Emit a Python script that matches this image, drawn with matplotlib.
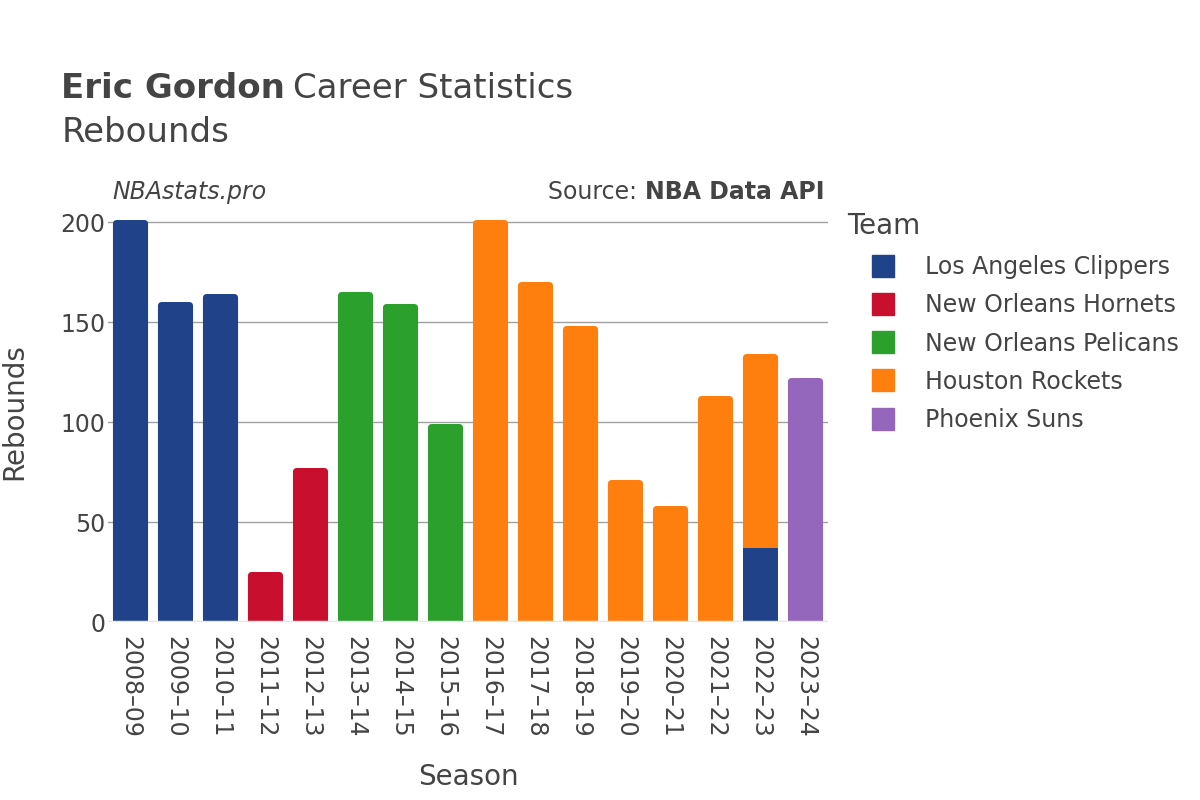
import matplotlib.pyplot as plt
from matplotlib.lines import Line2D
from matplotlib.patches import FancyBboxPatch

plt.rcParams['font.family'] = ['DejaVu Sans']

seasons = ["2008–09", "2009–10", "2010–11", "2011–12", "2012–13", "2013–14", "2014–15", "2015–16",
           "2016–17", "2017–18", "2018–19", "2019–20", "2020–21", "2021–22", "2022–23", "2023–24"]
teams = ["Los Angeles Clippers", "New Orleans Hornets", "New Orleans Pelicans", "Houston Rockets", "Phoenix Suns"]
colors = ["#1f4288", "#c8102e", "#2ca02c", "#ff7f0e", "#9467bd"]

clippers = [201, 160, 164, 0, 0, 0, 0, 0, 0, 0, 0, 0, 0, 0, 37, 0]
hornets = [0, 0, 0, 25, 77, 0, 0, 0, 0, 0, 0, 0, 0, 0, 0, 0]
pelicans = [0, 0, 0, 0, 0, 165, 159, 99, 0, 0, 0, 0, 0, 0, 0, 0]
rockets = [0, 0, 0, 0, 0, 0, 0, 0, 201, 170, 148, 71, 58, 113, 97, 0]
suns = [0, 0, 0, 0, 0, 0, 0, 0, 0, 0, 0, 0, 0, 0, 0, 122]
series = [clippers, hornets, pelicans, rockets, suns]

txt = "#444444"
fig = plt.figure(figsize=(12, 8), dpi=100)
ax = fig.add_axes([0.09, 0.2225, 0.6, 0.515])

x = list(range(len(seasons)))
bottom = [0] * len(seasons)
top_rect = {}
for vals, c in zip(series, colors):
    bars = ax.bar(x, vals, width=0.78, bottom=bottom, color=c, zorder=3)
    for i, (r, v) in enumerate(zip(bars, vals)):
        if v > 0:
            top_rect[i] = r
    bottom = [b + v for b, v in zip(bottom, vals)]

ax.set_xlim(-0.5, len(seasons) - 0.5)
ax.set_ylim(0, 206)

# rounded top corners on the top segment of each stack (~4 px radius)
rx = 0.089
ry = 2.0
for i, r in top_rect.items():
    x0, y0, w, h = r.get_x(), r.get_y(), r.get_width(), r.get_height()
    r.set_height(h - ry)
    ax.add_patch(FancyBboxPatch((x0, y0), w, h, boxstyle=f"round,pad=0,rounding_size={rx}",
                                mutation_aspect=ry / rx, facecolor=r.get_facecolor(),
                                edgecolor='none', zorder=3))

ax.set_yticks([0, 50, 100, 150, 200])
ax.grid(axis='y', color='#a0a0a0', linewidth=1, zorder=0)
ax.axhline(0, color='#e5e5e5', linewidth=2.5, zorder=4)
for s in ax.spines.values():
    s.set_visible(False)
ax.tick_params(axis='y', length=0, labelsize=17, colors=txt, pad=2)
ax.tick_params(axis='x', length=0, labelsize=17, colors=txt, pad=10)
ax.set_xticks(x)
ax.set_xticklabels(seasons, rotation=-90)
ax.set_xlabel("Season", fontsize=20, color=txt, labelpad=18)
ax.set_ylabel("Rebounds", fontsize=20, color=txt)
ax.yaxis.set_label_coords(-0.111, 0.51)

fig.text(0.051, 0.889, "Eric Gordon", fontsize=24.5, fontweight='bold', color=txt, va='center')
fig.text(0.244, 0.889, "Career Statistics", fontsize=24.5, color=txt, va='center')
fig.text(0.051, 0.835, "Rebounds", fontsize=24.5, color=txt, va='center')
fig.text(0.094, 0.76, "NBAstats.pro", fontsize=17, style='italic', color=txt, va='center')
fig.text(0.5375, 0.76, "Source: ", fontsize=17, color=txt, va='center', ha='right')
fig.text(0.5375, 0.76, "NBA Data API", fontsize=17, fontweight='bold', color=txt, va='center', ha='left')

fig.text(0.706, 0.7175, "Team", fontsize=20, color=txt, va='center')
handles = [Line2D([0], [0], marker='s', linestyle='', markersize=16, markerfacecolor=c, markeredgecolor=c)
           for c in colors]
leg = fig.legend(handles, teams, loc='upper left', bbox_to_anchor=(0.6987, 0.7075), frameon=False,
                 fontsize=17, labelspacing=0.6, handletextpad=0.77)
for t in leg.get_texts():
    t.set_color(txt)

fig.savefig("out.png", dpi=100)
